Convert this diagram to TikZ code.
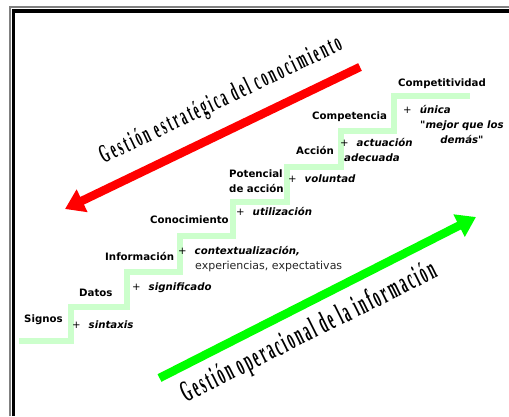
\documentclass[tikz,border=0pt]{standalone}
\usepackage{fontspec}
\usetikzlibrary{arrows.meta}
\newfontfamily\lblfont{DejaVu Sans}
\newfontfamily\redtitle[FakeStretch=0.45,LetterSpace=10]{Liberation Serif Bold}
\newfontfamily\greentitle[FakeStretch=0.42,LetterSpace=8]{Liberation Serif Bold}
\definecolor{stairgreen}{RGB}{204,255,204}
\definecolor{arrowred}{RGB}{255,0,0}
\definecolor{arrowgreen}{RGB}{0,255,0}
\newcommand\plusword[1]{{\mdseries+}\hspace{8pt}{\bfseries\itshape #1}}
\tikzset{
  lbl/.style={font=\lblfont\bfseries\fontsize{10.2}{15}\selectfont, inner sep=0pt, anchor=base west},
  ilbl/.style={lbl, font=\lblfont\bfseries\itshape\fontsize{10.2}{15}\selectfont},
  plain/.style={font=\lblfont\fontsize{11}{13}\selectfont, inner sep=0pt, anchor=base west, text=black!85},
  stair/.style={draw=stairgreen, line width=6pt, line join=miter, line cap=butt},
  bigarrow/.style={line width=8.5pt, line cap=butt, -{Triangle[length=19pt,width=24pt]}},
  titletext/.style={inner sep=0pt, anchor=center}
}
\begin{document}
\begin{tikzpicture}[x=1pt,y=-1pt]
\useasboundingbox (0,0) rectangle (509,416);
\fill[white] (0,0) rectangle (509,416);

% double frame, open to the right and bottom
\draw[gray, line width=1.8pt, line join=miter] (9.8,416) -- (9.8,6.7) -- (509,6.7);
\draw[black, line width=3.5pt, line join=miter] (13.6,416) -- (13.6,10.8) -- (509,10.8);

% staircase
\draw[stair] (19,341) -- (71,341) -- (71,307) -- (127,307) -- (127,272)
  -- (180,272) -- (180,236) -- (233,236) -- (233,202) -- (287,202)
  -- (287,167) -- (341,167) -- (341,131) -- (394,131) -- (394,96) -- (470,96);

% step labels (multi-line nodes are anchored at the baseline of their last line)
\node[lbl] (signos) at (24,322) {Signos};
\node[lbl] (sintaxis) at (72,328) {\plusword{sintaxis}};
\node[lbl] (datos) at (79,296) {Datos};
\node[lbl] (signif) at (132,290) {\plusword{significado}};
\node[lbl] (info) at (105,260) {Información};
\node[lbl] (context) at (178,254) {\plusword{contextualización,}};
\node[plain] (exper) at (195,269) {experiencias, expectativas};
\node[lbl] (conoc) at (150,223) {Conocimiento};
\node[lbl] (util) at (236,215) {\plusword{utilización}};
\node[lbl, align=left] (potencial) at (229,192) {Potencial\\de acción};
\node[lbl] (volun) at (288,182) {\plusword{voluntad}};
\node[lbl] (accion) at (296,154) {Acción};
\node[lbl] (actu) at (340,146) {\plusword{actuación}};
\node[ilbl] (adec) at (344,161) {adecuada};
\node[lbl] (compet) at (312,119) {Competencia};
\node[lbl] (unica) at (403,113) {\plusword{única}};
\node[ilbl, anchor=base, align=center] (mejor) at (462,143) {"mejor que los\\demás"};
\node[lbl] (competit) at (398,86) {Competitividad};

% arrows
\coordinate (redtail) at (360,67);
\coordinate (redtip) at (65,209);
\draw[bigarrow, arrowred] (redtail) -- (redtip);
\coordinate (greentail) at (159.5,378);
\coordinate (greentip) at (476,217);
\draw[bigarrow, arrowgreen] (greentail) -- (greentip);

% rotated titles
\node[titletext, rotate=25.5, font=\redtitle\fontsize{26}{26}\selectfont] (strat) at (221,101) {Gestión estratégica del conocimiento};
\node[titletext, rotate=26.5, font=\greentitle\fontsize{30}{30}\selectfont] (oper) at (309,333) {Gestión operacional de la información};
\end{tikzpicture}
\end{document}
